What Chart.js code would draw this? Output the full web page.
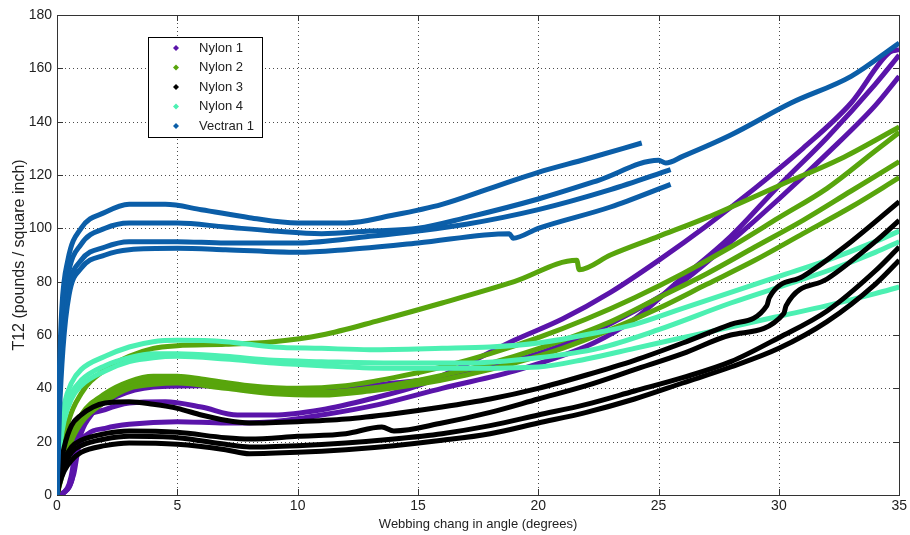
<!DOCTYPE html>
<html lang="en">
<head>
  <meta charset="UTF-8">
  <title>T12 vs webbing angle</title>
  <script src="https://cdn.jsdelivr.net/npm/chart.js"></script>
  <style>
    html, body { margin: 0; padding: 0; background: #fff; }
    .chart-box { width: 910px; height: 535px; }
  </style>
</head>
<body>

<div class="chart-box">
  <canvas id="angleChart" width="910" height="535"></canvas>
</div>

<script>
  // Axis ticks
  const xTicks = [0, 5, 10, 15, 20, 25, 30, 35];
  const yTicks = [0, 20, 40, 60, 80, 100, 120, 140, 160, 180];

  // Legend entries
  const materials = ['Nylon 1', 'Nylon 2', 'Nylon 3', 'Nylon 4', 'Vectran 1'];
  const materialColors = ['#5a14aa', '#58a50c', '#000000', '#4cf0b2', '#0b5ea8'];

  // Vectran 1 tests [angle, T12]
  const vectranA = [[0,0],[0.08,40],[0.2,70],[0.45,88],[1,100],[2,106],[3,109],[4.5,109],[6,107],[8,104],[10,102],[12,102],[14,105],[16,109],[18,115],[20,121],[22,126],[24.3,132]];
  const vectranB = [[0,0],[0.08,35],[0.2,62],[0.45,82],[1,94],[2,100],[3,102],[5,102],[7,100.5],[9,99],[11,98],[13,99],[15,100],[17,104],[20,111],[22.5,118],[25,125.5],[25.3,124.5],[26,127],[28,135],[30.5,147],[33,157],[35,169.5]];
  const vectranC = [[0,0],[0.08,30],[0.2,55],[0.5,78],[1,88],[2,93],[3,95],[5,95],[7,94.5],[10,94.5],[13,97],[15,99],[17,101.5],[20,107],[23,114.5],[25.5,122]];
  const vectranD = [[0,0],[0.1,30],[0.25,55],[0.5,75],[1,85],[2,90],[3,92],[5,92.5],[7,92],[10,91],[12,92],[15,94.5],[18.8,98],[18.95,96.3],[20,100],[23,108],[25.5,116.5]];

  // Nylon 1 tests
  const nylon1A = [[0,0],[0.3,1],[0.5,4],[0.65,10],[0.8,22],[1.1,28],[2,32],[3,34.5],[4.5,35],[6,33],[7.5,30],[9,30],[11,32],[13,36],[15,41],[17,49],[19,58],[21,66],[23,76],[25,88],[27,101],[29,115],[31,130],[33,147],[34.6,166],[35,167]];
  const nylon1B = [[0,0],[0.3,1],[0.5,3],[0.7,8],[0.9,18],[1.3,23],[2,25],[3,26.5],[5,27.5],[7,27],[9,27.5],[11,30],[13.4,34],[16,40],[19.2,47],[22.3,57],[24,66],[25.8,80],[28,97],[30,116],[32,134],[34,154],[35,165]];
  const nylon1C = [[0,0],[0.3,1],[0.6,5],[0.9,20],[1.5,31],[2.5,37],[4,40.5],[6,41],[8,40],[10,39.5],[12,40],[14,42],[16,44],[18,48],[20,53],[22,60],[24,69],[26,80],[28,95],[30,111],[32,128],[34,146],[35,157]];

  // Nylon 2 tests
  const nylon2A = [[0,0],[0.15,12],[0.4,25],[1,38],[2,47],[3,52],[4,55],[5,56],[7,56.5],[9,57.5],[11,60],[13.4,65.5],[16,72],[19,80],[21.6,88],[21.7,84.5],[23,90],[25,97],[27,104],[30,116],[32.7,126.7],[35,138]];
  const nylon2B = [[0,0],[0.15,8],[0.4,18],[1,30],[2,38],[3,42.5],[4,44.5],[5,44.5],[6,43.5],[8,41],[10,40],[12,41],[14,44],[16,48],[18,53],[20,59],[22,66],[24,74],[26,83],[28,93],[30,104],[32,115],[34,129],[35,136]];
  const nylon2C = [[0,0],[0.2,8],[0.5,20],[1,29],[2,37],[3,41.5],[4,43],[5,43],[7,41],[9,39],[11,38.5],[13,40],[15,43],[17,47],[19,52],[21,58],[23,65],[25,74],[27,83],[29,93],[31,103],[33,114],[35,125]];
  const nylon2D = [[0,0],[0.2,7],[0.5,18],[1,27],[2,35],[3,40],[4,41.5],[5,42],[7,40],[9,38],[11,37.5],[13,39],[15,41.5],[17,45],[19,49.5],[21,55],[23,62],[25,70],[27,79],[29,88],[31,98],[33,108],[35,119]];

  // Nylon 3 tests
  const nylon3A = [[0,0],[0.1,8],[0.3,18],[0.6,26],[1,30],[1.5,33],[2,34.5],[3,35],[4,34],[5,32.5],[6,30],[7,28],[8,27],[10,27.5],[12,28.5],[14,30.5],[16,33],[18,36],[20,40],[22,45],[24,50.5],[26,57],[28,64],[29.5,71],[29.6,74],[31,82],[33,95],[35,110]];
  const nylon3B = [[0,0],[0.1,6],[0.3,13],[0.6,18],[1,20.5],[2,23],[3,24],[5,23.5],[7,21.5],[8,21],[10,22],[12,23],[13.5,25.5],[14,24],[16,27],[18,31],[20,36],[22,41],[24,47],[26,53],[28,60],[30.2,68],[30.3,71],[32,81],[34,95],[35,103]];
  const nylon3C = [[0,0],[0.1,5],[0.3,11],[0.6,16],[1,18.5],[2,21],[3,22],[5,21.5],[7,19],[8,18],[10,18.5],[12,19.5],[14,21],[16,23],[18,26],[20,30],[22,34],[24,39],[26,44],[28,50],[30,59],[32,69],[34,84],[35,93]];
  const nylon3D = [[0,0],[0.1,4],[0.3,9],[0.6,13],[1,16],[2,18.5],[3,19.5],[5,19],[7,17],[8,15.5],[10,16],[12,17],[14,18.5],[16,20.5],[18,23],[20,27],[22,31],[24,36],[26,42],[28,48],[30,55],[32,65],[34,79],[35,88]];

  // Nylon 4 tests
  const nylon4A = [[0,0],[0.05,12],[0.15,25],[0.3,34],[0.6,42],[1,47],[2,52],[3,55.5],[4,57.5],[5,58],[7,57.5],[9,55.5],[11,55],[13,54.5],[16,55],[18,55.5],[20,57],[22.5,61],[24,64],[26,70],[28,76],[30,82],[32,88],[34,95],[35,99]];
  const nylon4B = [[0,0],[0.05,10],[0.15,22],[0.3,30],[0.6,38],[1,43],[2,48.5],[3,51.5],[4,53],[5,53],[7,52],[9,50.5],[11,50],[14,49.5],[17,49.5],[20,51.5],[22.5,55],[25,62],[28,72],[30,78],[32,84],[34,91],[35,95]];
  const nylon4C = [[0,0],[0.05,9],[0.15,20],[0.3,28],[0.6,36],[1,41],[2,46.5],[3,50],[4,51.5],[5,52],[7,51],[9,49.5],[11,48.5],[14,47.5],[17,47.5],[20,48],[22,51],[24,55],[26,59],[28,63],[30,67],[32,71],[34,75.5],[35,78]];

  // tests grouped by legend entry (same index as materials)
  const testsByMaterial = [
    [nylon1A, nylon1B, nylon1C],
    [nylon2A, nylon2B, nylon2C, nylon2D],
    [nylon3A, nylon3B, nylon3C, nylon3D],
    [nylon4A, nylon4B, nylon4C],
    [vectranA, vectranB, vectranC, vectranD]
  ];

  // drawing order: first dataset ends up on top
  const drawOrder = [4, 2, 3, 1, 0];

  const datasets = [];
  drawOrder.forEach(function(m) {
    testsByMaterial[m].forEach(function(test) {
      datasets.push({
        label: materials[m],
        data: test.map(function(p) { return {x: p[0], y: p[1]}; }),
        borderColor: materialColors[m],
        backgroundColor: materialColors[m],
        borderWidth: 5,
        pointRadius: 0,
        cubicInterpolationMode: 'monotone',
        fill: false
      });
    });
  });

  const tickFont = { family: "'Liberation Sans Narrow', 'Liberation Sans', Arial, sans-serif", size: 14 };
  const titleFont = { family: "'Liberation Sans', Arial, sans-serif", size: 13 };

  // dotted grid, box around the axes + small inward ticks (MATLAB style)
  const framePlugin = {
    id: 'frame',
    beforeDatasetsDraw(chart) {
      const c = chart.ctx, a = chart.chartArea;
      const sx = chart.scales.x, sy = chart.scales.y;
      c.save();
      c.strokeStyle = 'rgba(0,0,0,0.7)';
      c.lineWidth = 1;
      c.setLineDash([1, 3]);
      c.beginPath();
      xTicks.slice(1, -1).forEach(function(v) {
        const px = Math.round(sx.getPixelForValue(v)) + 0.5;
        c.moveTo(px, a.top); c.lineTo(px, a.bottom);
      });
      yTicks.slice(1, -1).forEach(function(v) {
        const py = Math.round(sy.getPixelForValue(v)) + 0.5;
        c.moveTo(a.left, py); c.lineTo(a.right, py);
      });
      c.stroke();
      c.setLineDash([]);
      c.strokeStyle = '#333';
      c.beginPath();
      xTicks.forEach(function(v) {
        const px = Math.round(sx.getPixelForValue(v)) + 0.5;
        c.moveTo(px, a.bottom); c.lineTo(px, a.bottom - 6);
        c.moveTo(px, a.top); c.lineTo(px, a.top + 6);
      });
      yTicks.forEach(function(v) {
        const py = Math.round(sy.getPixelForValue(v)) + 0.5;
        c.moveTo(a.left, py); c.lineTo(a.left + 6, py);
        c.moveTo(a.right, py); c.lineTo(a.right - 6, py);
      });
      c.stroke();
      c.strokeRect(Math.round(a.left) + 0.5, Math.round(a.top) + 0.5,
                   Math.round(a.right - a.left), Math.round(a.bottom - a.top));
      c.restore();
    }
  };

  // legend box inside the plot, top left
  const legendPlugin = {
    id: 'boxLegend',
    afterDatasetsDraw(chart) {
      const c = chart.ctx;
      const bx = 148, by = 37, bw = 114, bh = 100, row = 19.5;
      c.save();
      c.fillStyle = '#fff';
      c.fillRect(bx, by, bw, bh);
      c.strokeStyle = '#000';
      c.lineWidth = 1;
      c.strokeRect(bx + 0.5, by + 0.5, bw, bh);
      c.font = "13px 'Liberation Sans', Arial, sans-serif";
      c.textBaseline = 'middle';
      materials.forEach(function(name, i) {
        const y = by + 11 + i * row;
        c.fillStyle = materialColors[i];
        c.beginPath();
        c.moveTo(176, y - 3); c.lineTo(179, y); c.lineTo(176, y + 3); c.lineTo(173, y);
        c.closePath();
        c.fill();
        c.fillStyle = '#222';
        c.fillText(name, 199, y);
      });
      c.restore();
    }
  };

  const ctx = document.getElementById('angleChart').getContext('2d');
  const angleChart = new Chart(ctx, {
    type: 'line',
    data: { datasets: datasets },
    options: {
      responsive: false,
      animation: false,
      layout: { padding: { top: 15, right: 7, left: 0, bottom: 0 } },
      plugins: {
        legend: { display: false },
        tooltip: { enabled: false }
      },
      scales: {
        x: {
          type: 'linear',
          min: 0,
          max: 35,
          afterFit: function(s) { s.height = 40; },
          afterBuildTicks: function(s) { s.ticks = xTicks.map(function(v) { return {value: v}; }); },
          ticks: { font: tickFont, color: '#222', padding: 3, maxRotation: 0 },
          grid: { display: false, drawTicks: false },
          border: { display: false },
          title: { display: true, text: 'Webbing chang in angle (degrees)', font: titleFont, color: '#222', padding: { top: 0, bottom: 3 } }
        },
        y: {
          min: 0,
          max: 180,
          afterFit: function(s) { s.width = 57; },
          afterBuildTicks: function(s) { s.ticks = yTicks.map(function(v) { return {value: v}; }); },
          ticks: { font: tickFont, color: '#222', padding: 5 },
          grid: { display: false, drawTicks: false },
          border: { display: false },
          title: { display: true, text: 'T12 (pounds / square inch)', font: { family: titleFont.family, size: 16 }, color: '#222', padding: { top: 10, bottom: 0 } }
        }
      }
    },
    plugins: [framePlugin, legendPlugin]
  });
</script>

</body>
</html>
